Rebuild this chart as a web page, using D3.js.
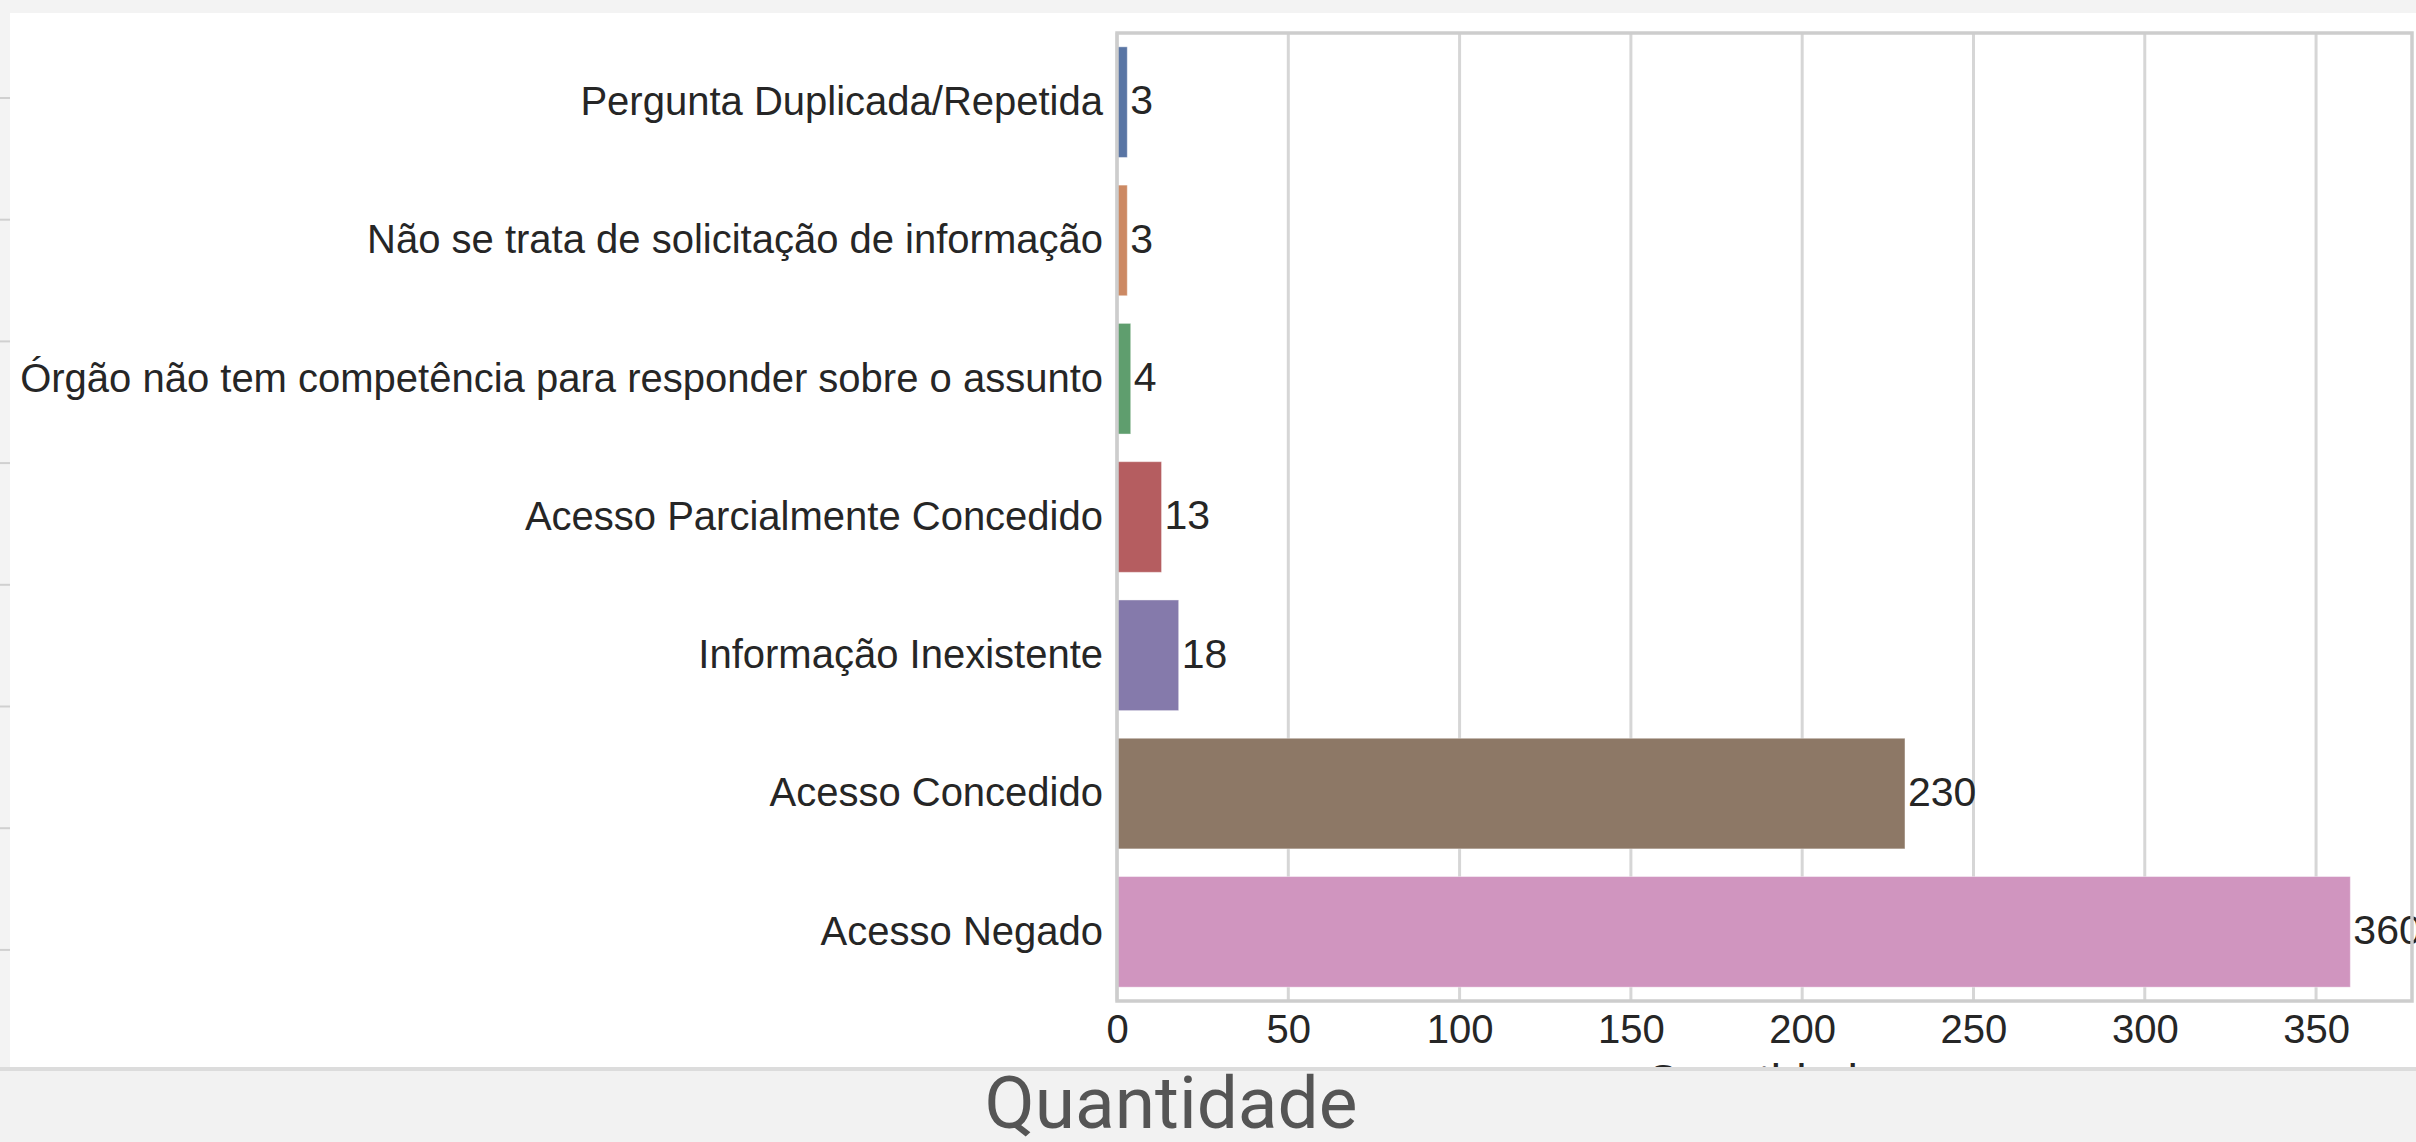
<!DOCTYPE html>
<html>
<head>
<meta charset="utf-8">
<script src="https://cdn.jsdelivr.net/npm/d3@7"></script>
<style>
	html, body { margin: 0; padding: 0; background: #f3f3f3; }
	svg { display: block; }
	.tick text { font-family: 'Liberation Sans', Arial, sans-serif; }
</style>
</head>
<body>
<svg id="chart"></svg>
<script>
const categories = [
	'Pergunta Duplicada/Repetida',
	'Não se trata de solicitação de informação',
	'Órgão não tem competência para responder sobre o assunto',
	'Acesso Parcialmente Concedido',
	'Informação Inexistente',
	'Acesso Concedido',
	'Acesso Negado'
]
const values = [3, 3, 4, 13, 18, 230, 360]
const colors = ['#5975a4', '#cc8963', '#5f9e6e', '#b55d60', '#857aab', '#8d7866', '#d095bf']
const xTicks = [0, 50, 100, 150, 200, 250, 300, 350]
const xLabel = 'Quantidade'

let width = 2416, height = 1142
let padding = { top: 33, bottom: 141, left: 1117, right: 4 }
let dWidth = width - padding.left - padding.right,
	dHeight = height - padding.top - padding.bottom

let svg = d3.select('#chart')
	.attr('width', width)
	.attr('height', height)

// page behind the picture
svg.append('rect')
	.attr('width', width)
	.attr('height', height)
	.attr('fill', '#f3f3f3')
svg.append('g')
	.selectAll('line')
	.data(d3.range(8))
	.join('line')
	.attr('x1', 0)
	.attr('x2', 10)
	.attr('y1', (d) => 98 + d * 121.7)
	.attr('y2', (d) => 98 + d * 121.7)
	.attr('stroke', '#d0d0d0')
	.attr('stroke-width', 2)
svg.append('rect')
	.attr('x', 10)
	.attr('y', 13)
	.attr('width', width - 10)
	.attr('height', 1055)
	.attr('fill', '#fff')

// seaborn pads the max by 5%
let scaleX = d3.scaleLinear()
	.domain([0, d3.max(values) * 1.05])
	.range([0, dWidth])
let scaleY = d3.scaleBand()
	.domain(categories)
	.range([0, dHeight])
	.paddingInner(0.2)
	.paddingOuter(0.1)

let plot = svg.append('g')
	.attr('transform', `translate(${padding.left},${padding.top})`)

plot.append('g')
	.selectAll('line')
	.data(xTicks)
	.join('line')
	.attr('x1', (d) => scaleX(d))
	.attr('x2', (d) => scaleX(d))
	.attr('y1', 0)
	.attr('y2', dHeight)
	.attr('stroke', '#d6d6d6')
	.attr('stroke-width', 3)

plot.append('g')
	.selectAll('rect')
	.data(values)
	.join('rect')
	.attr('x', scaleX(0))
	.attr('y', (d, i) => scaleY(categories[i]))
	.attr('width', (d) => scaleX(d) - scaleX(0))
	.attr('height', scaleY.bandwidth())
	.attr('fill', (d, i) => colors[i])
	.attr('stroke', '#fff')
	.attr('stroke-opacity', 0.4)
	.attr('stroke-width', 1)

plot.append('g')
	.selectAll('text')
	.data(values)
	.join('text')
	.attr('x', (d) => scaleX(d) + 3)
	.attr('y', (d, i) => scaleY(categories[i]) + scaleY.bandwidth() / 2)
	.attr('dy', '0.3em')
	.attr('font-family', "'Liberation Sans', Arial, sans-serif")
	.attr('font-size', 41)
	.attr('fill', '#262626')
	.text((d) => d)

// frame
plot.append('rect')
	.attr('width', dWidth)
	.attr('height', dHeight)
	.attr('fill', 'none')
	.attr('stroke', '#cdcdcd')
	.attr('stroke-width', 3.5)

let yAxis = plot.append('g')
	.call(d3.axisLeft(scaleY).tickSize(0).tickPadding(14))
yAxis.select('.domain').remove()
yAxis.selectAll('text')
	.attr('font-size', 40)
	.attr('fill', '#262626')

let xAxis = plot.append('g')
	.attr('transform', `translate(0,${dHeight})`)
	.call(d3.axisBottom(scaleX).tickValues(xTicks).tickSize(0).tickPadding(14))
xAxis.select('.domain').remove()
xAxis.selectAll('text')
	.attr('font-size', 40)
	.attr('fill', '#262626')

// axis title, mostly hidden under the page strip
svg.append('text')
	.attr('x', padding.left + dWidth / 2)
	.attr('y', 1097)
	.attr('text-anchor', 'middle')
	.attr('font-family', "'Liberation Sans', Arial, sans-serif")
	.attr('font-size', 46)
	.attr('fill', '#262626')
	.text(xLabel)

svg.append('rect')
	.attr('x', 0)
	.attr('y', 1068)
	.attr('width', width)
	.attr('height', height - 1068)
	.attr('fill', '#f2f2f2')
svg.append('rect')
	.attr('x', 0)
	.attr('y', 1067)
	.attr('width', width)
	.attr('height', 4)
	.attr('fill', '#dcdcdc')

svg.append('text')
	.attr('x', 1171)
	.attr('y', 1128)
	.attr('text-anchor', 'middle')
	.attr('font-family', 'Roboto, sans-serif')
	.attr('font-size', 73)
	.attr('fill', '#555')
	.text(xLabel)
</script>
</body>
</html>
